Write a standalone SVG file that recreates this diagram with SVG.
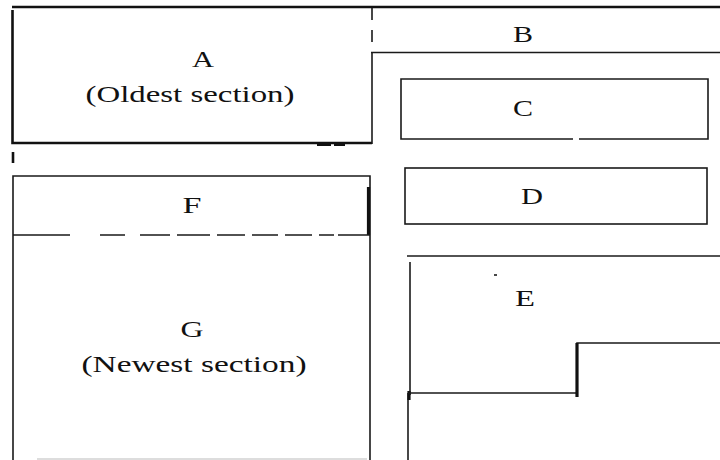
<svg xmlns="http://www.w3.org/2000/svg" width="720" height="460" viewBox="0 0 720 460">
<style>
.ln{fill:none;stroke:#1a1a1a;stroke-width:1.6;stroke-linecap:butt}
.th{fill:none;stroke:#111;stroke-width:2.6}
.hv{fill:none;stroke:#111;stroke-width:3.2}
.ds{fill:none;stroke:#1a1a1a;stroke-width:1.6;stroke-dasharray:12 10}
.t{font-family:"Liberation Serif","Times New Roman",serif;font-size:23px;fill:#111;text-anchor:middle}
</style>
<rect width="720" height="460" fill="#fff"/>
<g id="outline">
<line class="th" x1="12" y1="7" x2="720" y2="7"/>
</g>
<g id="A">
<path class="th" d="M12.5 10 V143 H372"/>
<line class="ln" x1="372" y1="52" x2="372" y2="144"/>
<line class="ds" x1="372" y1="8" x2="372" y2="52"/>
<path class="hv" d="M317 144.5 H331 M334 144.5 H345"/>
<line class="th" x1="13" y1="152" x2="13" y2="163"/>
<text class="t" x="203" y="67" textLength="22" lengthAdjust="spacingAndGlyphs">A</text>
<text class="t" x="190" y="102" textLength="209" lengthAdjust="spacingAndGlyphs">(Oldest section)</text>
</g>
<g id="B">
<line class="ln" x1="371" y1="52.5" x2="720" y2="52.5"/>
<text class="t" x="523" y="42" textLength="20" lengthAdjust="spacingAndGlyphs">B</text>
</g>
<g id="C">
<path class="ln" d="M573 139 H401 V79 H708 V139 H579"/>
<text class="t" x="523" y="116" textLength="20" lengthAdjust="spacingAndGlyphs">C</text>
</g>
<g id="D">
<rect class="ln" x="405" y="168" width="302" height="56"/>
<text class="t" x="532" y="204" textLength="22" lengthAdjust="spacingAndGlyphs">D</text>
</g>
<g id="F">
<path class="ln" d="M13 460 V176 H370 V460"/>
<line class="hv" x1="368.5" y1="187" x2="368.5" y2="235"/>
<path class="ln" d="M13 235 H70 M100 235 H125 M140 235 H170 M177 235 H210 M217 235 H245 M252 235 H278 M285 235 H312 M319 235 H334 M338 235 H370"/>
<text class="t" x="192" y="213" textLength="19" lengthAdjust="spacingAndGlyphs">F</text>
</g>
<g id="G">
<line stroke="#bbb" stroke-width="1.2" x1="37" y1="459" x2="367" y2="459"/>
<text class="t" x="192" y="337" textLength="23" lengthAdjust="spacingAndGlyphs">G</text>
<text class="t" x="194" y="372" textLength="225" lengthAdjust="spacingAndGlyphs">(Newest section)</text>
</g>
<g id="E">
<line class="ln" x1="407" y1="256" x2="720" y2="256"/>
<line class="ln" x1="410" y1="262" x2="410" y2="395"/>
<line class="ln" x1="408" y1="393" x2="408" y2="460"/>
<line class="hv" x1="409" y1="391" x2="409" y2="400"/>
<path class="ln" d="M408 393 H577 V343 H720"/>
<line class="hv" x1="577" y1="343" x2="577" y2="397"/>
<line class="ln" x1="494" y1="275" x2="497" y2="275"/>
<text class="t" x="525" y="306" textLength="20" lengthAdjust="spacingAndGlyphs">E</text>
</g>
</svg>
